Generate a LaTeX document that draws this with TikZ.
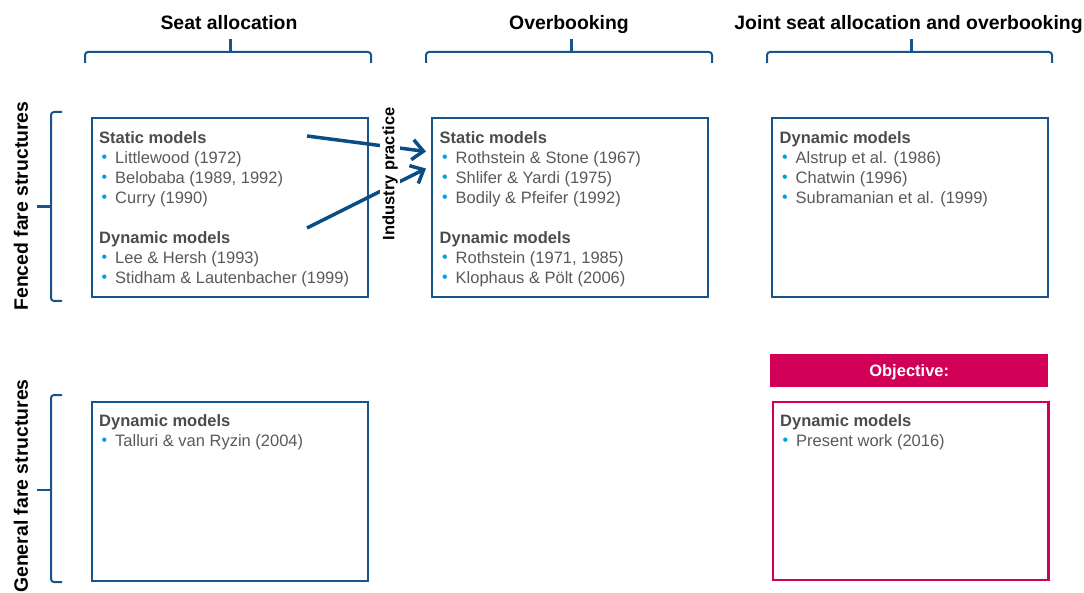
\documentclass[tikz,border=0pt]{standalone}
\usepackage{fontspec}
\setmainfont{Liberation Sans}
\usetikzlibrary{arrows.meta}
\definecolor{boxblue}{RGB}{24,84,140}
\definecolor{arrblue}{RGB}{10,76,132}
\definecolor{hdgray}{RGB}{75,75,75}
\definecolor{itgray}{RGB}{89,89,89}
\definecolor{bulcol}{RGB}{0,160,220}
\definecolor{objpink}{RGB}{209,0,86}
\newcommand\hdl[1]{{\bfseries\color{hdgray}#1}}
\newcommand\itm[1]{\makebox[16pt][l]{\hspace{2.5pt}\textcolor{bulcol}{\raisebox{0.5pt}{\fontsize{16}{16}\selectfont\textbullet}}}{\color{itgray}#1}}
\newcommand\topbrace[3]{%
  \draw[brc,rounded corners=3pt] (#1,63) -- (#1,52) -- (#3,52) -- (#3,63);
  \draw[brc,line width=3pt] (#2,52) -- (#2,39.5);}
\newcommand\leftbrace[3]{%
  \draw[brc,rounded corners=3pt] (62,#1) -- (51,#1) -- (51,#3) -- (62,#3);
  \draw[brc,line width=2.6pt] (51,#2) -- (37,#2);}
\tikzset{
  box/.style={draw=boxblue,line width=2pt,minimum width=276pt,minimum height=179pt,anchor=north west,inner sep=0pt},
  pbox/.style={draw=objpink,line width=2.5pt,minimum width=275.5pt,minimum height=178pt,anchor=north west,inner sep=0pt},
  txt/.style={anchor=north west,align=left,inner sep=0pt,font=\fontsize{16.5}{20}\selectfont},
  title/.style={font=\fontsize{19.4}{22}\selectfont\bfseries,anchor=base},
  side/.style={font=\fontsize{19.4}{22}\selectfont\bfseries,rotate=90,anchor=center},
  brc/.style={draw=boxblue,line width=2pt},
  arr/.style={draw=arrblue,line width=3.5pt,-{Straight Barb[length=11pt,width=20pt]}},
}
\begin{document}
\begin{tikzpicture}[x=1pt,y=-1pt]
\useasboundingbox (0,0) rectangle (1084,593);
% titles
\node[title] (t1) at (229,29.5) {Seat allocation};
\node[title] (t2) at (569,29.5) {Overbooking};
\node[title] (t3) at (908.5,29.5) {Joint seat allocation and overbooking};
\topbrace{85}{230.5}{371}
\topbrace{426}{571}{712}
\topbrace{767}{911}{1052}
% side labels
\node[side] (s1) at (21,206) {Fenced fare structures};
\node[side] (s2) at (21,486) {General fare structures};
\leftbrace{112}{206.5}{301}
\leftbrace{395}{490}{582}
% boxes
\node[box] (A) at (90.5,117.5) {};
\node[box] (B) at (431,117.5) {};
\node[box] (C) at (771,117.5) {};
\node[box] (D) at (90.5,400.5) {};
\node[fill=objpink,minimum width=278pt,minimum height=33pt,anchor=north west,inner sep=0pt] (O) at (770,354) {};
\node[text=white,font=\fontsize{16.5}{20}\selectfont\bfseries,anchor=base] (Ot) at ([yshift=-5.5pt]O.center) {Objective:};
\node[pbox] (E) at (771.5,400.5) {};
% texts
\node[txt] (At) at ([shift={(8.5,13.5)}]A.north west) {\hdl{Static models}\\
\itm{Littlewood (1972)}\\
\itm{Belobaba (1989, 1992)}\\
\itm{Curry (1990)}\\[20pt]
\hdl{Dynamic models}\\
\itm{Lee \& Hersh (1993)}\\
\itm{Stidham \& Lautenbacher (1999)}};
\node[txt] (Bt) at ([shift={(8.5,13.5)}]B.north west) {\hdl{Static models}\\
\itm{Rothstein \& Stone (1967)}\\
\itm{Shlifer \& Yardi (1975)}\\
\itm{Bodily \& Pfeifer (1992)}\\[20pt]
\hdl{Dynamic models}\\
\itm{Rothstein (1971, 1985)}\\
\itm{Klophaus \& Pölt (2006)}};
\node[txt] (Ct) at ([shift={(8.5,13.5)}]C.north west) {\hdl{Dynamic models}\\
\itm{Alstrup et al. (1986)}\\
\itm{Chatwin (1996)}\\
\itm{Subramanian et al. (1999)}};
\node[txt] (Dt) at ([shift={(8.5,13.5)}]D.north west) {\hdl{Dynamic models}\\
\itm{Talluri \& van Ryzin (2004)}};
\node[txt] (Et) at ([shift={(8.5,13.5)}]E.north west) {\hdl{Dynamic models}\\
\itm{Present work (2016)}};
% arrows
\coordinate (a1s) at (307,136);
\coordinate (a1e) at (426,151.5);
\coordinate (a2s) at (307,228);
\coordinate (a2e) at (426,168.5);
\draw[arr] (a1s) -- (a1e);
\draw[arr] (a2s) -- (a2e);
\node[side,font=\fontsize{16.5}{20}\selectfont\bfseries,fill=white,inner sep=2pt] (ip) at (390,174) {Industry practice};
\end{tikzpicture}
\end{document}
